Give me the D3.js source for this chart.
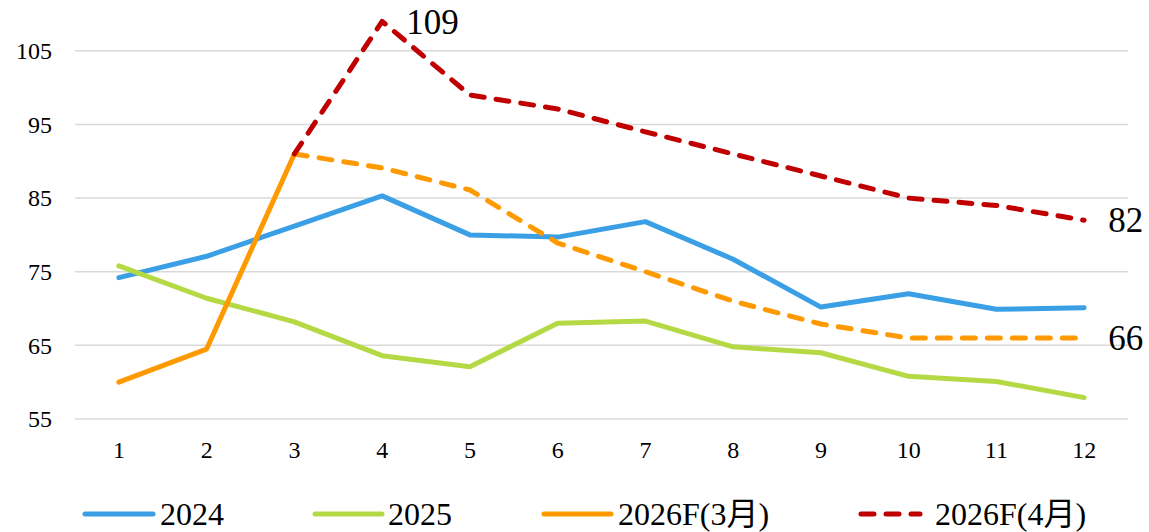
<!DOCTYPE html>
<html>
<head>
<meta charset="utf-8">
<script src="https://cdn.jsdelivr.net/npm/d3@7/dist/d3.min.js"></script>
<style>
  html, body { margin: 0; padding: 0; background: #ffffff; }
  svg { display: block; }
  svg text { font-family: "Times New Roman", "Liberation Serif", Tinos, serif !important; fill: #000; }
  svg text.cjk { font-family: "Times New Roman", "Liberation Serif", "Noto Sans CJK SC", serif !important; }
</style>
</head>
<body>
<svg id="chart" width="1149" height="532"></svg>
<script>
// Monthly values per series
const months = [1, 2, 3, 4, 5, 6, 7, 8, 9, 10, 11, 12];
const values2024 = [74.2, 77.1, 81.2, 85.3, 80.0, 79.7, 81.8, 76.7, 70.2, 72.0, 69.9, 70.1];
const values2025 = [75.8, 71.4, 68.2, 63.6, 62.1, 68.0, 68.3, 64.8, 64.0, 60.8, 60.1, 57.9];
// 2026 March forecast: actual months 1-3, forecast 3-12
const values2026Mar = [60.0, 64.5, 91, 89.1, 86.1, 78.9, 75.0, 71.0, 67.9, 66, 66, 66];
// 2026 April forecast: from month 3 onward
const values2026Apr = [null, null, 91, 109, 99, 97.1, 94, 91, 88, 85, 84, 82];
const yTicks = [55, 65, 75, 85, 95, 105];
const legendLabels = ["2024", "2025", "2026F(3月)", "2026F(4月)"];

const svg = d3.select("#chart");
const plotLeft = 75, plotRight = 1128, plotTop = 14, plotBottom = 419;

const x = d3.scaleBand().domain(months).range([plotLeft, plotRight]).padding(0);
const cx = m => x(m) + x.bandwidth() / 2;
const y = d3.scaleLinear().domain([55, 110]).range([plotBottom, plotTop]);

// Horizontal gridlines
svg.append("g").selectAll("line").data(yTicks).join("line")
  .attr("x1", plotLeft).attr("x2", plotRight)
  .attr("y1", d => y(d)).attr("y2", d => y(d))
  .attr("stroke", "#d9d9d9").attr("stroke-width", 1.5);

// Y axis labels
const yAxis = svg.append("g").attr("transform", `translate(${plotLeft},0)`)
  .call(d3.axisLeft(y).tickValues(yTicks).tickSize(0).tickPadding(23));
yAxis.attr("font-family", null);
yAxis.select(".domain").remove();
yAxis.selectAll("text").style("font-size", "24px");

// X axis labels
const xAxis = svg.append("g").attr("transform", `translate(0,${plotBottom})`)
  .call(d3.axisBottom(x).tickSize(0).tickPadding(22));
xAxis.attr("font-family", null);
xAxis.select(".domain").remove();
xAxis.selectAll("text").style("font-size", "24px");

const colors = { a: "#3a9fe5", b: "#b5d944", c: "#ff9900", d: "#c00000" };
const lw = 5;
const dash = "13,12";

const line = d3.line()
  .defined(d => d.v !== null)
  .x(d => cx(d.m))
  .y(d => y(d.v));

const pts = arr => months.map((m, i) => ({ m, v: arr[i] }));

function drawLine(data, color, dashed) {
  svg.append("path")
    .datum(data)
    .attr("d", line)
    .attr("fill", "none")
    .attr("stroke", color)
    .attr("stroke-width", lw)
    .attr("stroke-linejoin", "round")
    .attr("stroke-linecap", "round")
    .attr("stroke-dasharray", dashed ? dash : null);
}

drawLine(pts(values2024), colors.a, false);
drawLine(pts(values2025), colors.b, false);
const mar = pts(values2026Mar);
drawLine(mar.slice(0, 3), colors.c, false);
drawLine(mar.slice(2), colors.c, true);
drawLine(pts(values2026Apr), colors.d, true);

// Value labels
const labels = [
  { m: 4, v: values2026Apr[3] },
  { m: 12, v: values2026Apr[11] },
  { m: 12, v: values2026Mar[11] }
];
svg.append("g").selectAll("text").data(labels).join("text")
  .attr("x", d => cx(d.m) + 24)
  .attr("y", d => y(d.v))
  .attr("dy", "0.35em")
  .style("font-size", "35px")
  .text(d => d3.format("d")(d.v));

// Legend
const legend = [
  { x1: 83, x2: 155, tx: 160, color: colors.a, dashed: false },
  { x1: 313, x2: 384, tx: 388, color: colors.b, dashed: false },
  { x1: 542, x2: 613, tx: 618, color: colors.c, dashed: false },
  { x1: 859, x2: 922, tx: 935, color: colors.d, dashed: true }
];
const lg = svg.append("g");
legend.forEach((d, i) => {
  lg.append("line")
    .attr("x1", d.x1 + 2).attr("x2", d.x2 - 2)
    .attr("y1", 514).attr("y2", 514)
    .attr("stroke", d.color).attr("stroke-width", lw)
    .attr("stroke-linecap", "round")
    .attr("stroke-dasharray", d.dashed ? dash : null);
  lg.append("text")
    .attr("class", "cjk")
    .attr("x", d.tx).attr("y", 525)
    .style("font-size", "32px")
    .text(legendLabels[i]);
});
</script>
</body>
</html>
